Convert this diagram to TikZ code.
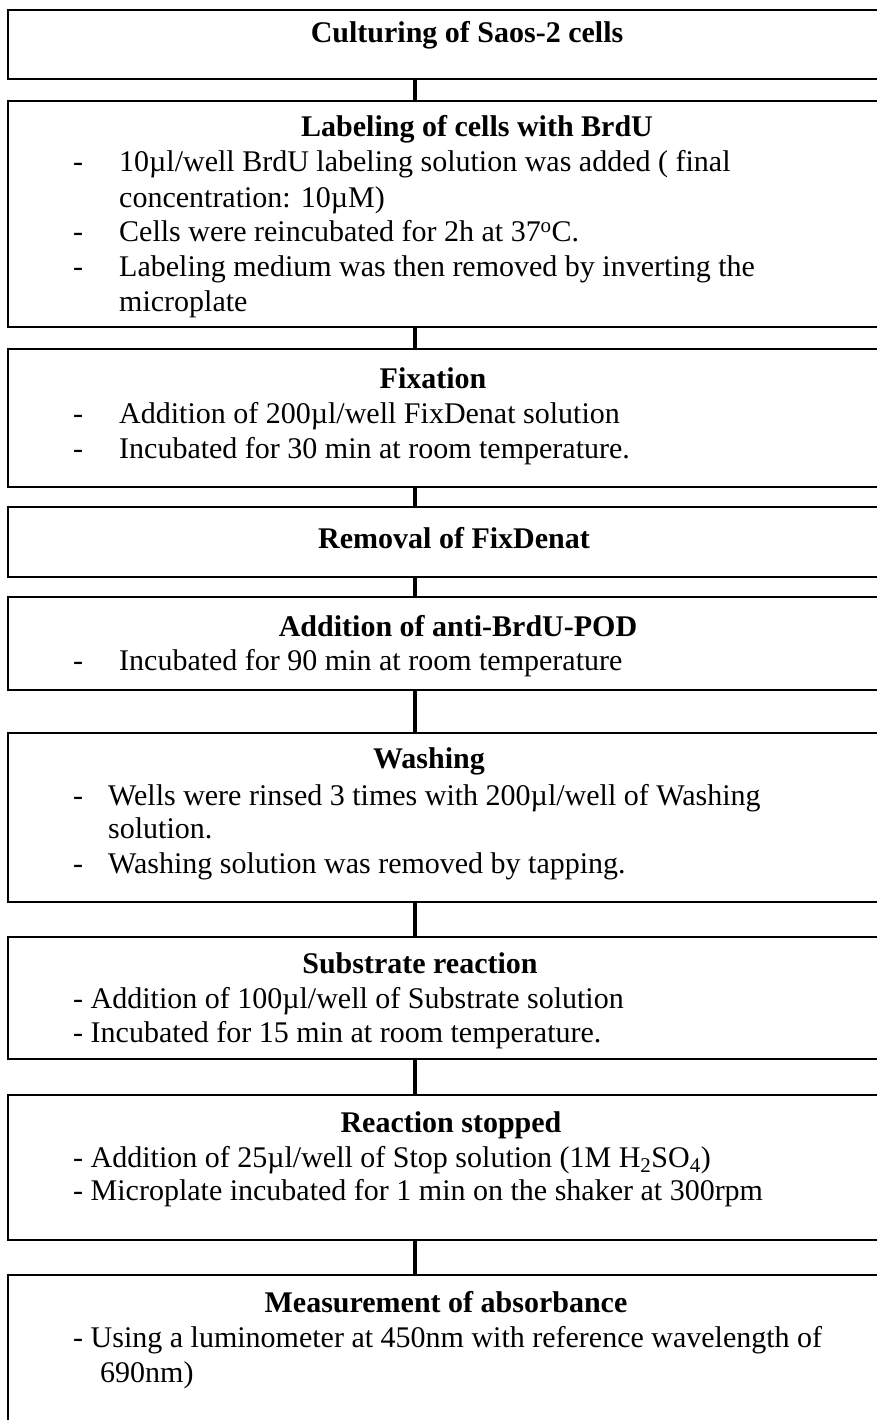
\documentclass[tikz,border=0pt]{standalone}
\usepackage{fontspec}
\setmainfont{Liberation Serif}
\begin{document}
\begin{tikzpicture}[x=1pt,y=-1pt,
  box/.style={draw=black,line width=1.5pt,minimum width=912pt,inner sep=0pt,fill=none},
  conn/.style={draw=black,line width=4pt},
  ttl/.style={anchor=base,inner sep=0pt,font=\fontsize{30}{35}\selectfont\bfseries},
  txt/.style={anchor=base west,inner sep=0pt,font=\fontsize{30}{35}\selectfont}]
\useasboundingbox (0,0) rectangle (877,1420);
\clip (0,0) rectangle (877,1420);
\fill[white] (0,0) rectangle (877,1420);
\coordinate (spine) at (415,0);
% boxes
\node[box,minimum height=69pt]  (b1) at (464,44.5) {};
\node[box,minimum height=226pt] (b2) at (464,214) {};
\node[box,minimum height=138pt] (b3) at (464,418) {};
\node[box,minimum height=70pt]  (b4) at (464,542) {};
\node[box,minimum height=93pt]  (b5) at (464,643.5) {};
\node[box,minimum height=169pt] (b6) at (464,817.5) {};
\node[box,minimum height=122pt] (b7) at (464,998) {};
\node[box,minimum height=145pt] (b8) at (464,1167.5) {};
\node[box,minimum height=175pt] (b9) at (464,1362.5) {};
% connectors
\draw[conn] (b1.south -| spine) -- (b2.north -| spine);
\draw[conn] (b2.south -| spine) -- (b3.north -| spine);
\draw[conn] (b3.south -| spine) -- (b4.north -| spine);
\draw[conn] (b4.south -| spine) -- (b5.north -| spine);
\draw[conn] (b5.south -| spine) -- (b6.north -| spine);
\draw[conn] (b6.south -| spine) -- (b7.north -| spine);
\draw[conn] (b7.south -| spine) -- (b8.north -| spine);
\draw[conn] (b8.south -| spine) -- (b9.north -| spine);
% titles
\node[ttl] (t1) at (467,43) {Culturing of Saos-2 cells};
\node[ttl] (t2) at (477,137) {Labeling of cells with BrdU};
\node[ttl] (t3) at (433,388) {Fixation};
\node[ttl] (t4) at (454,548) {Removal of FixDenat};
\node[ttl] (t5) at (458,636) {Addition of anti-BrdU-POD};
\node[ttl] (t6) at (429,768) {Washing};
\node[ttl] (t7) at (420,973) {Substrate reaction};
\node[ttl] (t8) at (451,1132) {Reaction stopped};
\node[ttl] (t9) at (446,1312) {Measurement of absorbance};
% box 2
\node[txt] (d21) at (73,172) {-};
\node[txt] (l21) at (119,172) {10µl/well BrdU labeling solution was added ( final};
\node[txt] (l22) at (119,208) {concentration: 10µM)};
\node[txt] (d22) at (73,242) {-};
\node[txt] (l23) at (119,242) {Cells were reincubated for 2h at 37\textsuperscript{o}C.};
\node[txt] (d23) at (73,277) {-};
\node[txt] (l24) at (119,277) {Labeling medium was then removed by inverting the};
\node[txt] (l25) at (119,312) {microplate};
% box 3
\node[txt] (d31) at (73,423) {-};
\node[txt] (l31) at (119,423) {Addition of 200µl/well FixDenat solution};
\node[txt] (d32) at (73,458) {-};
\node[txt] (l32) at (119,458) {Incubated for 30 min at room temperature.};
% box 5
\node[txt] (d51) at (73,670) {-};
\node[txt] (l51) at (119,670) {Incubated for 90 min at room temperature};
% box 6
\node[txt] (d61) at (73,805) {-};
\node[txt] (l61) at (108,805) {Wells were rinsed 3 times with 200µl/well of Washing};
\node[txt] (l62) at (108,838) {solution.};
\node[txt] (d62) at (73,873) {-};
\node[txt] (l63) at (108,873) {Washing solution was removed by tapping.};
% box 7
\node[txt] (l71) at (73,1008) {- Addition of 100µl/well of Substrate solution};
\node[txt] (l72) at (73,1042) {- Incubated for 15 min at room temperature.};
% box 8
\node[txt] (l81) at (73,1167) {- Addition of 25µl/well of Stop solution (1M H\textsubscript{2}SO\textsubscript{4})};
\node[txt] (l82) at (73,1200) {- Microplate incubated for 1 min on the shaker at 300rpm};
% box 9
\node[txt] (l91) at (73,1347) {- Using a luminometer at 450nm with reference wavelength of};
\node[txt] (l92) at (100,1382) {690nm)};
\end{tikzpicture}
\end{document}
